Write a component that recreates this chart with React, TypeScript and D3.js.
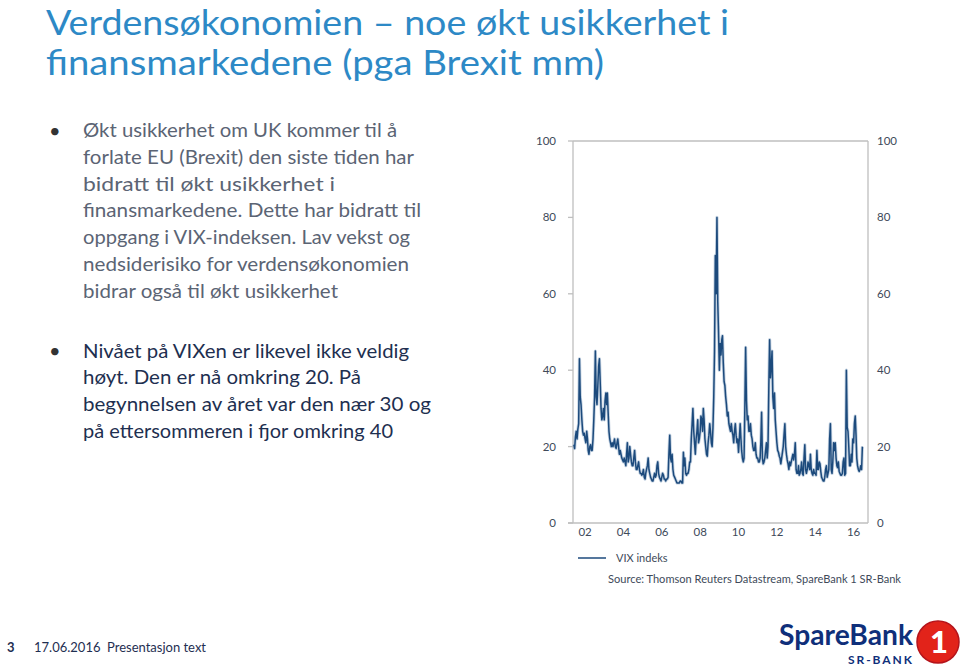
import React from "react";
import * as d3 from "d3";

// ---------- Text ----------
const titleLines = [
  "Verdensøkonomien – noe økt usikkerhet i",
  "finansmarkedene (pga Brexit mm)",
];
const titleWidths = [683, 558];
const bullet1Lines = [
  "Økt usikkerhet om UK kommer til å",
  "forlate EU (Brexit) den siste tiden har",
  "bidratt til økt usikkerhet i",
  "finansmarkedene. Dette har bidratt til",
  "oppgang i VIX-indeksen. Lav vekst og",
  "nedsiderisiko for verdensøkonomien",
  "bidrar også til økt usikkerhet",
];
const bullet1Widths = [314, 331, 252, 338, 327, 326, 255];
const bullet2Lines = [
  "Nivået på VIXen er likevel ikke veldig",
  "høyt. Den er nå omkring 20. På",
  "begynnelsen av året var den nær 30 og",
  "på ettersommeren i fjor omkring 40",
];
const bullet2Widths = [326, 278, 348, 310];
const legendLabel = "VIX indeks";
const sourceText = "Source: Thomson Reuters Datastream, SpareBank 1 SR-Bank";
const footerPage = "3";
const footerDate = "17.06.2016";
const footerText = "Presentasjon text";

// ---------- Axis ticks ----------
const yTicks = [0, 20, 40, 60, 80, 100];
const xTickYears = [2002, 2004, 2006, 2008, 2010, 2012, 2014, 2016];

// ---------- VIX data: two readings per month (1st and 16th) ----------
const vix2001 = [20.5, 19.5, 22.5, 24, 22, 24.5, 26, 43, 33, 31, 27, 24, 23, 23.5]; // Jun–Dec
const vix2002 = [22, 21, 24, 22, 19, 18, 20, 20.5, 19, 19, 22, 27, 33, 45, 33, 31, 36, 41, 43, 37, 30, 27, 28, 30];
const vix2003 = [27, 32, 34, 31, 34, 29, 24, 22, 21, 20, 21, 20, 21, 22, 20, 19.5, 21, 22, 20, 18, 19, 18, 17, 16.5];
const vix2004 = [16, 17, 16, 15, 18, 21, 16, 17, 20, 18, 16, 15, 15, 17, 19, 16, 14, 14, 15, 16, 14, 13, 13, 12.5];
const vix2005 = [13, 14, 12, 11.5, 13, 14, 15, 17, 14, 13, 12, 11.5, 11, 11, 12, 13, 12, 12.5, 15, 16, 13, 12, 11.5, 11];
const vix2006 = [12, 13, 12.5, 11.5, 11.5, 11, 11.5, 11.5, 12, 18, 23, 17, 16, 18, 14, 12.5, 12, 11.5, 11, 10.5, 10.5, 10.5, 10.5, 11];
const vix2007 = [11, 10.5, 10.5, 18.5, 15, 17, 13, 12.5, 13, 13, 14, 16, 16, 22, 26, 30, 24, 21, 18, 22, 24, 27, 21, 22];
const vix2008 = [24, 28, 27, 24, 30, 27, 22, 20, 18, 17.5, 21, 23, 26, 24, 21, 20, 25, 33, 45, 70, 60, 80, 58, 50];
const vix2009 = [40, 47, 44, 48, 49, 42, 37, 36, 33, 31, 28, 29, 26, 25, 24, 26, 24, 23, 21, 24, 26, 23, 21, 22];
const vix2010 = [18.5, 22, 26, 22, 19, 17, 16, 17, 30, 46, 32, 27, 28, 24, 24, 26, 23, 22, 20, 19, 19, 21, 18, 17];
const vix2011 = [17, 16, 16, 17, 21, 29, 17, 15.5, 16, 17, 19, 21, 17, 20, 36, 48, 38, 41, 45, 33, 30, 34, 27, 24];
const vix2012 = [21, 19, 18.5, 17.5, 17, 15.5, 17, 18.5, 20, 23, 26, 20, 18, 16.5, 15.5, 14, 16, 15, 16, 17, 18, 16.5, 18, 21];
const vix2013 = [14, 13, 13, 15, 12.5, 13, 14, 16, 13, 12.5, 17, 20.5, 14, 13, 14, 16, 15, 14, 18, 14, 13, 12.5, 14, 13];
const vix2014 = [13, 12.5, 19, 14, 14, 16, 15.5, 13.5, 12, 11.5, 11, 11, 12, 14, 15, 12, 13, 14, 22, 26, 14, 13, 16, 21];
const vix2015 = [19, 21, 17, 15, 14.5, 16, 13.5, 13, 12.5, 12.5, 13, 16, 17, 12.5, 13, 40, 25, 24, 20, 15, 15, 18, 16, 22];
const vix2016 = [21, 26, 28, 23, 17, 15, 14, 13.5, 14, 15, 14, 20]; // Jan–Jun

const vixByYear: [number, number, number[]][] = [
  [2001, 5, vix2001],
  [2002, 0, vix2002],
  [2003, 0, vix2003],
  [2004, 0, vix2004],
  [2005, 0, vix2005],
  [2006, 0, vix2006],
  [2007, 0, vix2007],
  [2008, 0, vix2008],
  [2009, 0, vix2009],
  [2010, 0, vix2010],
  [2011, 0, vix2011],
  [2012, 0, vix2012],
  [2013, 0, vix2013],
  [2014, 0, vix2014],
  [2015, 0, vix2015],
  [2016, 0, vix2016],
];

type Pt = { date: Date; value: number };
const series: Pt[] = [];
vixByYear.forEach(([year, startMonth, vals]) => {
  vals.forEach((v, i) => {
    const m = startMonth + Math.floor(i / 2);
    series.push({ date: new Date(year, m, i % 2 === 0 ? 1 : 16), value: v });
  });
});

const FONT = "Lato, 'Open Sans', sans-serif";

export default function App() {
  const plot = { left: 573, right: 868, top: 141, bottom: 523 };
  const x = d3
    .scaleTime()
    .domain([new Date(2001, 4, 16), new Date(2016, 9, 1)])
    .range([plot.left, plot.right]);
  const y = d3.scaleLinear().domain([0, 100]).range([plot.bottom, plot.top]);
  const line = d3
    .line<Pt>()
    .x((d) => x(d.date))
    .y((d) => y(d.value));
  const path = line(series) || "";

  const axisColor = "#bfbfbf";
  const tickTextColor = "#404a5a";
  const navy = "#1c4a7c";

  return (
    <svg
      width={960}
      height={669}
      style={{ position: "absolute", left: 0, top: 0, background: "#fff" }}
      fontFamily={FONT}
    >
      <rect x={0} y={0} width={960} height={669} fill="#fff" />
      {/* Title */}
      {titleLines.map((t, i) => (
        <text
          key={t}
          x={46}
          y={35 + i * 40}
          fontSize={34}
          fill="#2d89c6"
          textLength={titleWidths[i]}
          lengthAdjust="spacingAndGlyphs"
        >
          {t}
        </text>
      ))}

      {/* Bullets */}
      <text x={49} y={138} fontSize={20} fill="#333">•</text>
      {bullet1Lines.map((t, i) => (
        <text
          key={t}
          x={83}
          y={137 + i * 26.8}
          fontSize={20}
          fill="#5b6474"
          textLength={bullet1Widths[i]}
          lengthAdjust="spacingAndGlyphs"
        >
          {t}
        </text>
      ))}
      <text x={49} y={358} fontSize={20} fill="#333">•</text>
      {bullet2Lines.map((t, i) => (
        <text
          key={t}
          x={83}
          y={357.5 + i * 26.8}
          fontSize={20}
          fill="#1e2f50"
          textLength={bullet2Widths[i]}
          lengthAdjust="spacingAndGlyphs"
        >
          {t}
        </text>
      ))}

      {/* Chart frame */}
      <g stroke={axisColor} strokeWidth={1.3} fill="none">
        <line x1={plot.left} y1={plot.top} x2={plot.left} y2={plot.bottom} />
        <line x1={plot.right} y1={plot.top} x2={plot.right} y2={plot.bottom} />
        <line x1={plot.left} y1={plot.top} x2={plot.right} y2={plot.top} />
        <line x1={plot.left - 5} y1={plot.bottom} x2={plot.right} y2={plot.bottom} />
        {yTicks.map((t) => (
          <line key={t} x1={plot.left - 5} x2={plot.left} y1={y(t)} y2={y(t)} />
        ))}
      </g>
      {yTicks.map((t) => (
        <g key={"yl" + t} fontSize={11.5} fill={tickTextColor}>
          <text x={556} y={y(t)} dy="0.35em" textAnchor="end">
            {t}
          </text>
          <text x={877} y={y(t)} dy="0.35em" textAnchor="start">
            {t}
          </text>
        </g>
      ))}
      {xTickYears.map((yr) => (
        <text
          key={yr}
          x={x(new Date(yr, 0, 1))}
          y={536}
          fontSize={11.5}
          fill={tickTextColor}
          textAnchor="middle"
        >
          {String(yr % 100).padStart(2, "0")}
        </text>
      ))}

      {/* Series */}
      <path d={path} fill="none" stroke="#9db4cd" strokeWidth={3.2} strokeOpacity={0.6} strokeLinejoin="round" />
      <path d={path} fill="none" stroke={navy} strokeWidth={1.5} strokeLinejoin="round" />

      {/* Legend */}
      <line x1={578} x2={606} y1={558} y2={558} stroke={navy} strokeWidth={1.5} />
      <text x={616} y={562} fontSize={11} fill={tickTextColor}>
        {legendLabel}
      </text>
      <text x={608} y={583} fontSize={11} fill={tickTextColor} textLength={293} lengthAdjust="spacingAndGlyphs">
        {sourceText}
      </text>

      {/* Footer */}
      <text x={7} y={652} fontSize={13} fontWeight="bold" fill="#1f2f52">
        {footerPage}
      </text>
      <text x={34} y={652} fontSize={13} fill="#1f2f52">
        {footerDate}
      </text>
      <text x={107} y={652} fontSize={13} fill="#1f2f52">
        {footerText}
      </text>

      {/* Logo */}
      <text x={779} y={645} fontSize={28} fontWeight="bold" fill="#0f2f7a" textLength={134} lengthAdjust="spacingAndGlyphs">
        SpareBank
      </text>
      <text x={848} y={664} fontSize={12} fontWeight="bold" fill="#0f2f7a" textLength={64} lengthAdjust="spacing">
        SR-BANK
      </text>
      <circle cx={938} cy={642} r={21} fill="#e2231a" />
      <circle cx={938} cy={642} r={21} fill="none" stroke="#b5141b" strokeWidth={1.5} />
      <text x={939} y={653} fontSize={31} fontWeight="900" fill="#fff" textAnchor="middle">
        1
      </text>
    </svg>
  );
}
